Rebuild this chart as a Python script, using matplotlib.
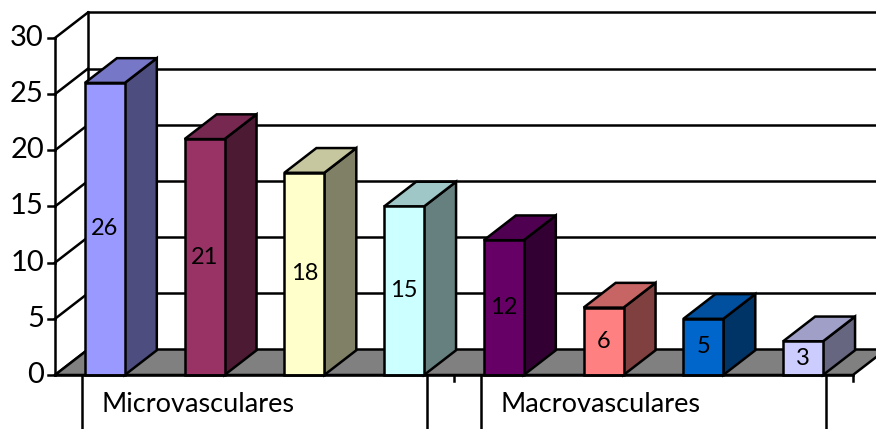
import matplotlib
matplotlib.use("Agg")
import matplotlib.pyplot as plt
from matplotlib.patches import Polygon
from matplotlib.colors import to_rgb

# Data
values = [26, 21, 18, 15, 12, 6, 5, 3]
groups = ["Microvasculares", "Macrovasculares"]
group_sizes = [4, 4]
front_colors = ["#9999FF", "#993366", "#FFFFCC", "#CCFFFF",
                "#660066", "#FF8080", "#0066CC", "#CCCCFF"]
y_ticks = [0, 5, 10, 15, 20, 25, 30]

FONT = "Lato"
DX, DY = 0.331, 2.27        # depth offset of the 3D box (x units, value units)
BAR_W = 0.40
BAR_DEPTH = 0.97
LW = 1.8

fig = plt.figure(figsize=(8.76, 4.29), dpi=100)
ax = fig.add_axes([0, 0, 1, 1])
n = len(values)
ax.set_xlim(-0.551, 8.231)
ax.set_ylim(-4.807, 33.38)
ax.axis("off")


def shade(c, f):
    r, g, b = to_rgb(c)
    return (r * f, g * f, b * f)


ymax = y_ticks[-1]
xr = 20  # far right, clipped by axes

# floor
ax.add_patch(Polygon([(0, 0), (n, 0), (n + DX, DY), (DX, DY)],
                     closed=True, facecolor="#808080", edgecolor="black",
                     lw=LW, zorder=1))

# back wall gridlines and side wall gridlines
for t in y_ticks:
    if t > 0:
        ax.plot([DX, xr], [t + DY, t + DY], color="black", lw=LW, zorder=0.5)
    ax.plot([0, DX], [t, t + DY], color="black", lw=LW, zorder=0.5)
# back wall left edge
ax.plot([DX, DX], [DY, ymax + DY], color="black", lw=LW, zorder=0.5)
# value axis
ax.plot([0, 0], [0, ymax], color="black", lw=LW, zorder=3)
for t in y_ticks:
    ax.plot([-0.07, 0], [t, t], color="black", lw=LW, zorder=3)
    ax.text(-0.11, t, str(t), ha="right", va="center",
            fontsize=21, family=FONT, zorder=3)

# bars
dx, dy = DX * BAR_DEPTH, DY * BAR_DEPTH
for i, (v, c) in enumerate(zip(values, front_colors)):
    x0 = i + 0.5 - BAR_W / 2
    x1 = i + 0.5 + BAR_W / 2
    top = [(x0, v), (x1, v), (x1 + dx, v + dy), (x0 + dx, v + dy)]
    side = [(x1, 0), (x1 + dx, dy), (x1 + dx, v + dy), (x1, v)]
    front = [(x0, 0), (x1, 0), (x1, v), (x0, v)]
    for pts, col in ((side, shade(c, 0.5)), (top, shade(c, 0.78)), (front, c)):
        ax.add_patch(Polygon(pts, closed=True, facecolor=col,
                             edgecolor="black", lw=LW, zorder=2,
                             joinstyle="miter"))
    ax.text(i + 0.5, v / 2, str(v), ha="center", va="center",
            fontsize=17, family=FONT, zorder=4)

# floor front edge
ax.plot([0, n], [0, 0], color="black", lw=LW, zorder=3)

# category axis: group ticks, brackets and labels
start = 0
for g, size in zip(groups, group_sizes):
    end = start + size
    ax.plot([end, end], [0, -0.55], color="black", lw=LW, zorder=3)
    left, right = start + 0.271, end - 0.271
    for xb in (left, right):
        ax.plot([xb, xb], [0, -5], color="black", lw=LW, zorder=3)
    ax.text(left + 0.2, -2.65, g, ha="left", va="center",
            fontsize=19.5, family=FONT, zorder=3)
    start = end

fig.savefig("out.png", dpi=100)
